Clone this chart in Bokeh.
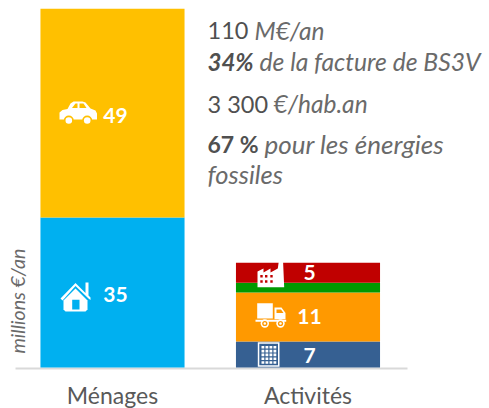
from bokeh.plotting import figure
from bokeh.models import Range1d, Label, FixedTicker
from bokeh.embed import file_html
from bokeh.resources import INLINE

categories = ["Ménages", "Activités"]
category_positions = [0, 1]
menages_segments = ["Logement", "Transport"]
menages_values = [35.2, 49.0]
menages_colors = ["#00B0F0", "#FFC000"]
activites_segments = ["Tertiaire", "Fret", "Agriculture", "Industrie"]
activites_values = [6.1, 11.5, 2.3, 4.7]
activites_colors = ["#366092", "#FF9900", "#009900", "#C00000"]
value_labels = ["35", "49", "7", "11", "5"]

FONT = "Lato"
GREY = "#505050"
LIGHT = "#6a6a6a"

p = figure(width=489, height=408, output_backend="svg", toolbar_location=None,
           frame_width=489, frame_height=370,
           x_range=Range1d(-112 / 195.5, 377 / 195.5), y_range=Range1d(-3 / 4.26, 367 / 4.26),
           min_border_left=0, min_border_right=0, min_border_top=0, min_border_bottom=38,
           outline_line_color=None, background_fill_color="white", margin=(0, 0, 0, 0))
p.extra_x_ranges["px"] = Range1d(0, 489)
p.extra_y_ranges["px"] = Range1d(370, 0)
p.grid.visible = False
p.yaxis.visible = False
ax = p.xaxis[0]
ax.ticker = FixedTicker(ticks=category_positions)
ax.major_label_overrides = dict(zip(category_positions, categories))
ax.axis_line_color = None
ax.major_tick_line_color = None
ax.minor_tick_line_color = None
ax.major_label_text_font = FONT
ax.major_label_text_font_size = "23px"
ax.major_label_text_color = "#595959"
ax.major_label_standoff = 4

p.segment([15], [368], [407], [368], line_color="#d9d9d9", line_width=2, x_range_name="px", y_range_name="px")


def stack(pos, vals, cols):
    b = 0.0
    for v, c in zip(vals, cols):
        p.vbar(x=[pos], bottom=[b], top=[b + v], width=0.737, fill_color=c, line_color=None)
        b += v


stack(category_positions[0], menages_values, menages_colors)
stack(category_positions[1], activites_values, activites_colors)


def poly(xs, ys, color):
    p.patch(xs, ys, fill_color=color, line_color=None, x_range_name="px", y_range_name="px")


def circ(x, y, r, color):
    p.circle([x], [y], radius=r, fill_color=color, line_color=None, x_range_name="px", y_range_name="px")


def rect(x0, y0, x1, y1, color):
    poly([x0, x1, x1, x0], [y0, y0, y1, y1], color)


W = "white"
# car
poly([59, 59, 62, 67, 70, 73, 82, 85, 90, 95, 96.5, 96.5],
     [119, 112, 109.5, 108.5, 103, 101, 101, 102, 108, 110, 113, 119], W)
poly([71.5, 75, 77, 77], [107.5, 103, 103, 107.5], "#FFC000")
poly([79, 83, 86, 79], [103, 103, 107.5, 107.5], "#FFC000")
for cx in (68.3, 86.7):
    circ(cx, 120, 5, "#FFC000")
    circ(cx, 120, 3.3, W)
# house
poly([60, 75, 85, 85, 88, 88, 90, 90, 88, 75, 62], [298, 282.5, 292.5, 282, 282, 295, 297, 299.5, 298, 285.5, 300], W)
poly([63, 75, 87, 87, 85, 65, 63], [300, 288, 300, 309, 311, 311, 309], W)
rect(71.7, 299.3, 79, 309, "#00B0F0")
# factory
poly([257, 257, 263, 263, 270, 270, 277.3, 278.5, 282.5, 283.7, 283.7],
     [286.7, 271, 268, 272, 268, 272, 268, 259.3, 259.3, 286.7, 286.7], W)
for wx in (261, 265.7, 271):
    for wy in (275.7, 281):
        rect(wx - 1.2, wy - 1.2, wx + 1.2, wy + 1.2, "#C00000")
# truck
rect(256.7, 302.7, 272.3, 318, W)
poly([274, 281, 285, 285, 274], [307, 307, 312.5, 318.7, 318.7], W)
poly([276, 280.5, 283, 276], [309, 309, 312.5, 312.5], "#FF9900")
rect(255, 319.3, 285.7, 321.3, W)
for cx in (264.3, 280):
    circ(cx, 323, 4.2, W)
    circ(cx, 323, 2.6, "#FF9900")
    circ(cx, 323, 1.2, W)
# building
poly([257.3, 279, 279, 257.3], [341.7, 341.7, 366.3, 366.3], W)
rect(258.8, 343.2, 277.5, 364.8, "#366092")
for col in range(4):
    for row in range(5):
        x0 = 261 + col * 4
        y0 = 345.5 + row * 3.8
        rect(x0, y0, x0 + 2.8, y0 + 2.6, W)


def txt(x, y, s, size, color=GREY, style="normal", align="left", baseline="alphabetic", angle=0):
    p.add_layout(Label(x=x, y=y, text=s, x_range_name="px", y_range_name="px",
                       text_font=FONT, text_font_size=f"{size}px", text_color=color,
                       text_font_style=style, text_align=align, text_baseline=baseline, angle=angle))


# value labels
for (x, y, s) in [(115, 294, value_labels[0]), (115, 115, value_labels[1]),
                  (309, 355, value_labels[2]), (309, 316, value_labels[3]), (309, 272, value_labels[4])]:
    txt(x, y, s, 21, W, "bold", "center")

# side notes
txt(207, 30, "110", 23.5, GREY)
txt(254, 30, "M€/an", 24.5, LIGHT, "italic")
txt(207, 61, "34%", 24, GREY, "bold italic")
txt(259, 61, "de la facture de BS3V", 24.7, LIGHT, "italic")
txt(207, 103, "3 300", 23.5, GREY)
txt(273, 103, "€/hab.an", 24.5, LIGHT, "italic")
txt(207, 143, "67 %", 23, GREY, "bold")
txt(264, 143, "pour les énergies", 26, LIGHT, "italic")
txt(207, 173, "fossiles", 25.5, LIGHT, "italic")
txt(17, 353, "millions €/an", 19.5, LIGHT, "italic", angle=1.5708)

open("out.html", "w").write(file_html(p, INLINE))
